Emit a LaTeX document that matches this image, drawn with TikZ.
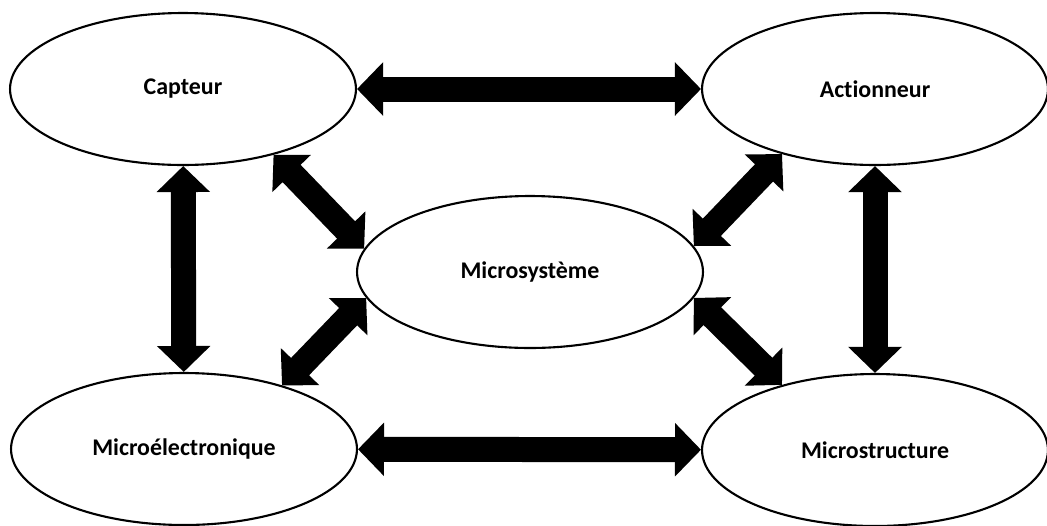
\documentclass[tikz,border=0pt]{standalone}
\usepackage{fontspec}
\setmainfont{Carlito}[Ligatures=NoCommon]
\usetikzlibrary{arrows.meta,shapes.geometric}

\begin{document}
\begin{tikzpicture}[x=0.02cm,y=-0.02cm,
  ovale/.style={ellipse,draw,line width=1.2pt,inner sep=0pt,
    minimum width=6.92cm,minimum height=3.04cm,
    font=\bfseries\fontsize{13.6}{16}\selectfont},
  fleche/.style={line width=0.5cm,
    {Triangle[length=0.52cm,width=1.04cm]}-{Triangle[length=0.52cm,width=1.04cm]}}]
\useasboundingbox (0,0) rectangle (1047,525);
\node[ovale] (capteur) at (183,89) {Capteur};
\node[ovale] (actionneur) at (875,89) {Actionneur};
\node[ovale] (micro) at (530,272) {Microsystème};
\node[ovale] (microelec) at (184,449) {Microélectronique};
\node[ovale] (microstruct) at (875,450) {Microstructure};
\draw[fleche] (capteur) -- (actionneur);
\draw[fleche] (microelec) -- (microstruct);
\draw[fleche] (capteur) -- (microelec);
\draw[fleche] (actionneur) -- (microstruct);
\draw[fleche] (capteur.-36.6) -- (micro.172.5);
\draw[fleche] (actionneur.215.4) -- (micro.9.3);
\draw[fleche] (microelec.33) -- (micro.189.1);
\draw[fleche] (microstruct.145.9) -- (micro.-9.1);
\end{tikzpicture}
\end{document}
